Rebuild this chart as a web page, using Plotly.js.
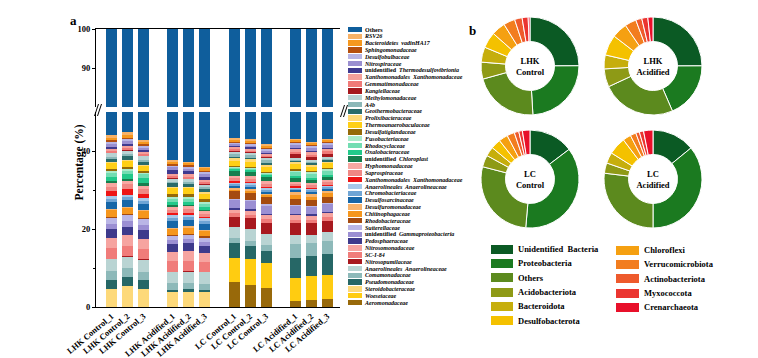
<!DOCTYPE html>
<html><head><meta charset="utf-8">
<script src="https://cdn.plot.ly/plotly-3.0.1.min.js"></script>
<style>html,body{margin:0;padding:0;background:#fff}#chart{width:758px;height:358px}</style>
</head><body><div id="chart"></div>
<script>
// ---------- Data: panel a (stacked bars) ----------
const sampleLabels = ['LHK Control_1','LHK Control_2','LHK Control_3','LHK Acidified_1','LHK Acidified_2','LHK Acidified_3',
  'LC Control_1','LC Control_2','LC Control_3','LC Acidified_1','LC Acidified_2','LC Acidified_3'];
const sampleGroup = [0,0,0,1,1,1,2,2,2,3,3,3];

// taxa in stacking order (bottom -> top), "Others" is stacked last
const taxaNames = ['<i>Aeromonadaceae</i>','<i>Woeseiaceae</i>','<i>Steroidobacteraceae</i>','<i>Pseudomonadaceae</i>',
  '<i>Comamonadaceae</i>','<i>Anaerolineales  Anaerolineaceae</i>','<i>Nitrosopumilaceae</i>','<i>SC-I-84</i>',
  '<i>Nitrosomonadaceae</i>','<i>Pedosphaeraceae</i>','unidentified  <i>Gammaproteobacteria</i>','<i>Sutterellaceae</i>',
  '<i>Rhodobacteraceae</i>','<i>Chitinophagaceae</i>','<i>Desulfuromonadaceae</i>','<i>Desulfosarcinaceae</i>',
  '<i>Chromobacteriaceae</i>','<i>Anaerolineales  Anaerolineaceae</i>','<i>Xanthomonadales  Xanthomonadaceae</i>','<i>Saprospiraceae</i>',
  '<i>Hyphomonadaceae</i>','unidentified  <i>Chloroplast</i>','<i>Oxalobacteraceae</i>','<i>Rhodocyclaceae</i>',
  '<i>Fusobacteriaceae</i>','<i>Desulfatiglandaceae</i>','<i>Thermoanaerobaculaceae</i>','<i>Prolixibacteraceae</i>',
  '<i>Geothermobacteraceae</i>','<i>A4b</i>','<i>Methylomonadaceae</i>','<i>Kangiellaceae</i>',
  '<i>Gemmatimonadaceae</i>','<i>Xanthomonadales  Xanthomonadaceae</i>','unidentified  <i>Thermodesulfovibrionia</i>','<i>Nitrospiraceae</i>',
  '<i>Desulfobulbaceae</i>','<i>Sphingomonadaceae</i>','<i>Bacteroidetes  vadinHA17</i>','<i>RSV26</i>'];
const taxaColors = ['#98690a','#ffcc11','#fdd97a','#266766','#8db9b9','#b9d4d3','#a8191f','#f07c7a',
  '#f6a4a0','#3e3a8c','#9b8fd3','#bab6e6','#a54b10','#f5961d','#f7b46e','#1767a8',
  '#6fa5d5','#a8c8e8','#ee1515','#f08884','#f8a8a2','#177e4e','#22c98a','#72ddb2',
  '#aaebcb','#956a09','#ffcf16','#ffd977','#2a6b6a','#8cb8b8','#b8d3d3','#a5191e',
  '#f07a78','#f4a09a','#3f3a8f','#9a8fd0','#b7b5e5','#b5500f','#f5981f','#f7b267'];
const othersName = 'Others';
const othersColor = '#0f5e9c';

// relative abundance (%) per sample, same order as taxaNames
const lhkControl1 = [0,0,4.7,2.3,2.2,3.0,0.2,2.7,2.6,2.3, 1.4,1.3,0.4,1.7,0.4,1.7,0.9,0.7,1.2,1.1, 0.9,0.7,1.0,1.0,0.5,0.6,1.3,0.3,0.9,0.5, 0.9,0.2,0.4,0.6,0.4,0.7,0.6,0.4,0.7,0.6];
const lhkControl2 = [0,0,5.5,2.1,2.4,2.9,0.2,2.6,2.7,2.1, 1.5,1.5,0.3,1.5,0.4,1.7,0.8,0.6,1.5,1.2, 0.7,0.7,1.3,0.8,0.4,0.6,1.5,0.3,0.9,0.6, 0.8,0.2,0.4,0.7,0.5,0.6,0.5,0.4,0.8,0.6];
const lhkControl3 = [0,0,4.7,2.1,2.1,3.1,0.2,2.6,2.6,2.4, 1.3,1.4,0.4,1.6,0.5,1.5,0.8,0.7,1.1,1.2, 0.8,0.8,1.1,1.0,0.4,0.6,1.2,0.3,0.8,0.5, 0.8,0.2,0.4,0.6,0.4,0.6,0.5,0.4,0.7,0.5];
const lhkAcid1 = [0,0,3.8,0.6,1.7,2.8,0.2,2.6,2.4,2.0, 1.0,1.0,0.4,1.5,0.3,1.7,0.9,0.6,0.6,0.9, 0.7,0.4,0.9,0.7,0.4,0.9,1.5,0.3,0.9,0.4, 0.8,0.2,0.5,0.6,0.9,0.7,0.4,0.4,0.6,0.4];
const lhkAcid2 = [0,0,3.9,0.7,1.6,2.9,0.2,2.5,2.5,2.0, 1.1,1.0,0.3,1.6,0.4,1.6,0.9,0.5,0.5,0.9, 0.7,0.4,0.8,0.8,0.4,0.9,1.4,0.3,0.8,0.4, 0.7,0.2,0.5,0.6,0.8,0.7,0.4,0.4,0.6,0.4];
const lhkAcid3 = [0,0,3.8,0.6,1.6,2.9,0.2,2.4,2.3,1.9, 1.0,1.0,0.4,1.4,0.3,1.5,0.8,0.6,0.4,0.8, 0.6,0.4,0.8,0.7,0.4,1.0,1.3,0.3,0.9,0.4, 0.7,0.2,0.5,0.5,0.8,0.7,0.4,0.4,0.7,0.4];
const lcControl1 = [6.4,6.2,0,3.8,1.4,2.6,2.7,0.9,1.0,0.4, 2.0,0.3,2.0,0.4,0.4,0.4,0.6,0.4,0.3,0.9, 0.6,1.3,0.4,0.3,0.2,0.3,1.3,0.6,0.4,0.7, 0.6,0.3,0.3,0.5,0.3,0.5,0.4,0.3,0.4,0.5];
const lcControl2 = [5.6,6.6,0,3.4,1.4,2.9,2.8,0.9,1.1,0.4, 2.0,0.3,1.9,0.4,0.5,0.5,0.6,0.4,0.3,0.9, 0.6,1.2,0.4,0.3,0.2,0.3,1.4,0.6,0.4,0.6, 0.6,0.3,0.3,0.5,0.3,0.5,0.4,0.3,0.4,0.5];
const lcControl3 = [5.0,6.3,0,3.1,1.5,2.8,2.9,0.9,1.0,0.4, 2.1,0.3,1.9,0.4,0.4,0.5,0.6,0.4,0.3,0.8, 0.6,1.2,0.4,0.3,0.2,0.3,1.3,0.6,0.4,0.7, 0.5,0.3,0.3,0.5,0.3,0.5,0.4,0.3,0.5,0.5];
const lcAcid1 = [1.5,5.9,0,5.1,3.7,2.3,3.0,0.9,1.1,0.4, 1.9,0.3,1.7,0.9,0.7,0.5,0.4,0.3,0.3,0.7, 0.5,0.9,0.6,0.9,0.5,0.3,1.3,0.5,0.4,0.3, 0.5,0.9,0.6,0.6,0.3,0.9,0.4,0.3,0.5,0.4];
const lcAcid2 = [1.9,6.0,0,5.1,3.4,2.0,3.2,0.8,1.0,0.4, 1.8,0.3,1.6,0.8,0.7,0.5,0.4,0.3,0.3,0.7, 0.5,0.9,0.6,0.8,0.5,0.3,1.2,0.5,0.4,0.3, 0.5,0.8,0.6,0.6,0.3,0.8,0.4,0.3,0.5,0.4];
const lcAcid3 = [2.1,6.2,0,5.4,3.2,2.4,2.8,0.9,1.0,0.4, 1.9,0.3,1.7,0.9,0.6,0.5,0.4,0.3,0.3,0.7, 0.5,0.8,0.6,0.9,0.5,0.3,1.2,0.5,0.4,0.3, 0.5,0.8,0.6,0.6,0.3,0.8,0.4,0.3,0.5,0.4];
const othersPct = [56.0,55.2,57.1,62.4,62.7,64.0,56.7,57.0,58.3,56.8,57.6,56.8];

// ---------- Data: panel b (donuts) ----------
const phyla = ['Unidentified  Bacteria','Proteobacteria','Others','Acidobacteriota','Bacteroidota','Desulfobacterota',
  'Chloroflexi','Verrucomicrobiota','Actinobacteriota','Myxococcota','Crenarchaeota'];
const phylaColors = ['#0b5a24','#1b7a20','#5c8a1e','#8e9a16','#c6ae0c','#f4c100','#f5a011','#f27d1f','#ee5a2c','#eb3530','#e8102a'];
const donutTitles = ['LHK<br>Control','LHK<br>Acidified','LC<br>Control','LC<br>Acidified'];
const lhkControlPhyla = [25.0,24.2,21.7,5.6,5.0,5.3,4.6,3.8,2.5,2.0,0.6];
const lhkAcidPhyla    = [25.0,18.6,24.6,6.0,4.6,6.8,5.1,3.8,2.0,2.0,1.7];
const lcControlPhyla  = [14.7,36.8,27.7,3.9,3.1,3.3,3.0,2.5,1.5,1.2,2.5];
const lcAcidPhyla     = [14.1,35.9,26.9,3.4,3.6,5.8,2.7,1.9,1.2,1.4,3.1];

// ---------- Build ----------
const W = 758, H = 358;
const px = v => v / W;            // pixel -> paper x
const py = v => (H - v) / H;      // pixel -> paper y
const serif = 'Liberation Serif, Times New Roman, serif';
const sampleValues = [lhkControl1,lhkControl2,lhkControl3,lhkAcid1,lhkAcid2,lhkAcid3,
  lcControl1,lcControl2,lcControl3,lcAcid1,lcAcid2,lcAcid3];
const groupPitch = 3.83;
const xPos = sampleGroup.map((g, i) => g * groupPitch + (i % 3));

const traces = [];
const allNames = taxaNames.concat([othersName]);
const allColors = taxaColors.concat([othersColor]);
allNames.forEach((nm, k) => {
  const yv = sampleValues.map((arr, s) => k < taxaNames.length ? arr[k] : othersPct[s]);
  ['y', 'y2'].forEach((ya, j) => {
    traces.push({type:'bar', x:xPos, y:yv, xaxis: j ? 'x2' : 'x', yaxis: ya, width:0.69,
      marker:{color:allColors[k], line:{width:0}}, name:nm, showlegend:false, hoverinfo:'skip'});
  });
});

// custom legend for panel a (swatches drawn as bars, labels as tick labels)
const legNames = allNames.slice().reverse();
const legColors = allColors.slice().reverse();
traces.push({type:'bar', orientation:'h', x:legNames.map(() => 1), y:legNames.map((_, i) => i),
  marker:{color:legColors, line:{width:0}}, width:0.8, xaxis:'x3', yaxis:'y3', showlegend:false, hoverinfo:'skip'});

// donuts
const donutData = [lhkControlPhyla, lhkAcidPhyla, lcControlPhyla, lcAcidPhyla];
const donutCenters = [[530,66],[653,66],[530,179],[653,179]];
const R = 49;
donutData.forEach((vals, i) => {
  const [cx, cy] = donutCenters[i];
  traces.push({type:'pie', labels:phyla, values:vals, sort:false, direction:'clockwise', rotation:0,
    hole:0.5, textinfo:'none', hoverinfo:'label+percent',
    marker:{colors:phylaColors, line:{color:'#ffffff', width:1}},
    domain:{x:[px(cx - R), px(cx + R)], y:[py(cy + R), py(cy - R)]},
    title:{text:donutTitles[i], position:'middle center', font:{family:serif, size:8.5, color:'#000', weight:'bold'}},
    showlegend:false});
});

// donut legend (two columns)
const col1 = phyla.slice(0, 6), col2 = phyla.slice(6);
const col1c = phylaColors.slice(0, 6), col2c = phylaColors.slice(6);
traces.push({type:'bar', orientation:'h', x:col1.map(() => 1), y:col1.map((_, i) => i), width:0.64,
  marker:{color:col1c, line:{width:0}}, xaxis:'x4', yaxis:'y4', showlegend:false, hoverinfo:'skip'});
traces.push({type:'bar', orientation:'h', x:col2.map(() => 1), y:col2.map((_, i) => i), width:0.64,
  marker:{color:col2c, line:{width:0}}, xaxis:'x5', yaxis:'y5', showlegend:false, hoverinfo:'skip'});

const tickFont = {family:serif, size:8.5, color:'#000', weight:'bold'};
const hiddenX = d => ({domain:d, range:[0,1], visible:false, fixedrange:true});
const layout = {
  width:W, height:H, margin:{l:0, r:0, t:0, b:0}, paper_bgcolor:'#fff', plot_bgcolor:'rgba(0,0,0,0)',
  barmode:'stack', bargap:0, showlegend:false, font:{family:serif, color:'#000'},
  xaxis:{domain:[px(96), px(340)], anchor:'y', range:[-0.97, 3*groupPitch + 2.79], tickvals:xPos, ticktext:sampleLabels,
    tickangle:-40, tickfont:tickFont, ticks:'', showline:true, linecolor:'#000', linewidth:1, showgrid:false, zeroline:false},
  xaxis2:{domain:[px(96), px(340)], anchor:'y2', matches:'x', side:'top', showticklabels:false, ticks:'',
    showline:true, linecolor:'#000', linewidth:1, showgrid:false, zeroline:false},
  yaxis:{domain:[py(307), py(112)], anchor:'x', range:[0,50], tickvals:[0,20,40], ticks:'outside', ticklen:3,
    tickcolor:'#000', tickfont:tickFont, showline:true, linecolor:'#000', linewidth:1, showgrid:false, zeroline:false,
    minor:{tickvals:[10,30], ticks:'outside', ticklen:2, tickcolor:'#000', showgrid:false}},
  yaxis2:{domain:[py(107), py(29)], anchor:'x2', range:[80,100], tickvals:[90,100], ticks:'outside', ticklen:3,
    tickcolor:'#000', tickfont:tickFont, showline:true, linecolor:'#000', linewidth:1, showgrid:false, zeroline:false},
  xaxis3:hiddenX([px(348), px(362)]),
  yaxis3:{domain:[py(306), py(26)], anchor:'x3', side:'right', range:[legNames.length - 0.5, -0.5],
    tickvals:legNames.map((_, i) => i), ticktext:legNames, ticks:'', ticklabelstandoff:2,
    tickfont:{family:serif, size:6, color:'#000', weight:'bold'}, showline:false, showgrid:false, zeroline:false},
  xaxis4:hiddenX([px(491), px(513)]),
  yaxis4:{domain:[py(328), py(242)], anchor:'x4', side:'right', range:[5.5,-0.5], tickvals:col1.map((_, i) => i),
    ticktext:col1, ticks:'', ticklabelstandoff:4, tickfont:{family:serif, size:8.5, color:'#000', weight:'bold'},
    showline:false, showgrid:false, zeroline:false},
  xaxis5:hiddenX([px(616), px(639)]),
  yaxis5:{domain:[py(329), py(243)], anchor:'x5', side:'right', range:[5.5,-0.5], tickvals:col2.map((_, i) => i),
    ticktext:col2, ticks:'', ticklabelstandoff:4, tickfont:{family:serif, size:8.5, color:'#000', weight:'bold'},
    showline:false, showgrid:false, zeroline:false},
  annotations:[
    {text:'<b>a</b>', xref:'paper', yref:'paper', x:px(68), y:py(11), showarrow:false, font:{family:serif, size:13, color:'#000'}},
    {text:'<b>b</b>', xref:'paper', yref:'paper', x:px(472), y:py(21), showarrow:false, font:{family:serif, size:13, color:'#000'}},
    {text:'<b>Percentage (%)</b>', xref:'paper', yref:'paper', x:px(70), y:py(163), textangle:-90, showarrow:false,
      font:{family:serif, size:11.5, color:'#000'}}
  ],
  shapes:[
    {type:'line', xref:'paper', yref:'paper', x0:px(94.5), y0:py(116), x1:px(98.5), y1:py(104), line:{color:'#000', width:1}},
    {type:'line', xref:'paper', yref:'paper', x0:px(97.5), y0:py(116), x1:px(101.5), y1:py(104), line:{color:'#000', width:1}},
    {type:'line', xref:'paper', yref:'paper', x0:px(340.5), y0:py(117), x1:px(344.5), y1:py(105), line:{color:'#000', width:1}},
    {type:'line', xref:'paper', yref:'paper', x0:px(343.5), y0:py(117), x1:px(347.5), y1:py(105), line:{color:'#000', width:1}}
  ]
};
Plotly.newPlot('chart', traces, layout, {displayModeBar:false, staticPlot:true});
</script>
</body></html>
